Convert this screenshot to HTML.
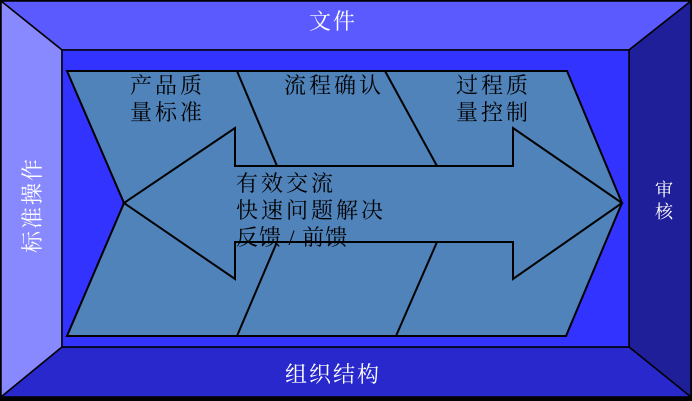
<!DOCTYPE html><html><head><meta charset="utf-8"><style>body{margin:0;background:#000;width:692px;height:401px;overflow:hidden}svg{display:block}text{font-family:"Liberation Serif","Noto Serif CJK SC",serif}</style></head><body>
<svg width="692" height="401" viewBox="0 0 692 401">
<rect x="0" y="0" width="692" height="401" fill="#000"/>
<g stroke="#000" stroke-width="1.5">
<polygon points="1,1 691,1 629,50 62,50" fill="#5a5aff"/>
<polygon points="1,1 62,50 62,347 1,397" fill="#8888ff"/>
<polygon points="691,1 691,397 629,347 629,50" fill="#1f1f99"/>
<polygon points="1,397 62,347 629,347 691,397" fill="#2828cc"/>
<rect x="62" y="50" width="567" height="297" fill="#3333ff"/>
</g>
<g stroke="#000" stroke-width="2" fill="#4f83ba" stroke-linejoin="miter">
<polygon points="67,71 567,71 622,203 566,336 67,336 124,203"/>
<polygon points="124,203 235,128 235,166 513,166 513,128 622,203 513,279 513,242 235,242 235,279"/>
<line x1="237" y1="71" x2="277" y2="166"/>
<line x1="385" y1="71" x2="437" y2="166"/>
<line x1="277" y1="242" x2="237" y2="336"/>
<line x1="437" y1="242" x2="396" y2="336"/>
</g>
<g fill="#fff" font-size="22" letter-spacing="2">
<text x="309" y="29">文件</text>
<text x="285" y="382">组织结构</text>
<text transform="translate(40,205) rotate(-90)" text-anchor="middle">标准操作</text>
<text x="655" y="196" font-size="18" letter-spacing="0">审</text>
<text x="655" y="218" font-size="18" letter-spacing="0">核</text>
</g>
<g fill="#000" font-size="22" letter-spacing="3">
<text x="130" y="93">产品质</text>
<text x="130" y="120">量标准</text>
<text x="284" y="93">流程确认</text>
<text x="456" y="93">过程质</text>
<text x="456" y="120">量控制</text>
<text x="236" y="191">有效交流</text>
<text x="236" y="218">快速问题解决</text>
<text x="236" y="245" letter-spacing="1">反馈 / 前馈</text>
</g>
</svg></body></html>
